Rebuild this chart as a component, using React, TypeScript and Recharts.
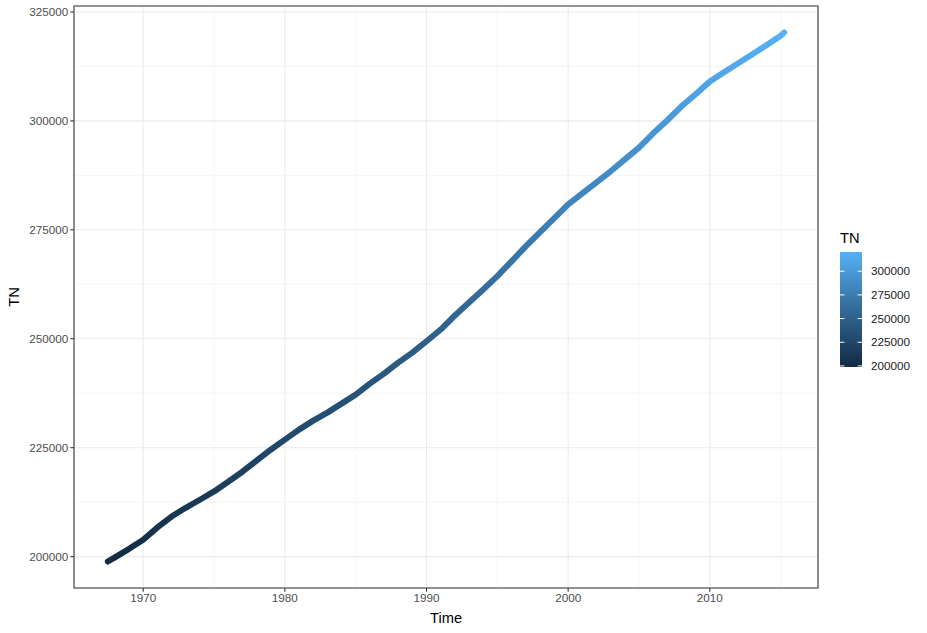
import { LineChart, Line, XAxis, YAxis, CartesianGrid, ReferenceArea } from 'recharts';

// values (one per year, plus the two ends)
const years = [
    1967.5, 1968, 1969, 1970, 1971, 1972, 1973, 1974, 1975, 1976, 1977, 1978, 1979,
    1980, 1981, 1982, 1983, 1984, 1985, 1986, 1987, 1988, 1989,
    1990, 1991, 1992, 1993, 1994, 1995, 1996, 1997, 1998, 1999,
    2000, 2001, 2002, 2003, 2004, 2005, 2006, 2007, 2008, 2009,
    2010, 2011, 2012, 2013, 2014, 2015, 2015.25
];
const tnValues = [
    198870, 199840, 201790, 203860, 206700, 209200, 211210, 213050, 214960, 217190, 219490, 222010, 224540,
    226840, 229140, 231210, 233050, 235110, 237180, 239710, 242010, 244530, 246830,
    249430, 252120, 255340, 258320, 261310, 264370, 267750, 271190, 274400, 277630,
    280840, 283370, 285900, 288430, 291180, 293870, 297160, 300150, 303360, 306120,
    309040, 311180, 313250, 315310, 317380, 319520, 320300
];

const xTicks = [1970, 1980, 1990, 2000, 2010];
const yTicks = [200000, 225000, 250000, 275000, 300000, 325000];
const xMinor = [1975, 1985, 1995, 2005, 2015];
const yMinor = [212500, 237500, 262500, 287500, 312500];
const legendTicks = [200000, 225000, 250000, 275000, 300000];

const LOW = '#132B43';
const MID = '#336A98';
const HIGH = '#56B1F7';
const FONT = '"Liberation Sans", Arial, sans-serif';

const data = years.map((t, i) => ({ time: t, tn: tnValues[i] }));

// ggplot-like 5% expansion
const expand = (arr: number[]) => {
    const lo = Math.min(...arr);
    const hi = Math.max(...arr);
    const pad = (hi - lo) * 0.05;
    return [lo - pad, hi + pad];
};
const xDomain = expand(years);
const yDomain = expand(tnValues);
const tnMin = Math.min(...tnValues);
const tnMax = Math.max(...tnValues);

function ColorBar() {
    const top = 252;
    const bottom = 367;
    const left = 840;
    const w = 22;
    const toY = (v: number) => bottom - ((v - tnMin) / (tnMax - tnMin)) * (bottom - top);
    return (
        <svg width={927} height={633} style={{ position: 'absolute', left: 0, top: 0, pointerEvents: 'none' }}>
            <defs>
                <linearGradient id="barGrad" x1="0" y1="1" x2="0" y2="0">
                    <stop offset="0%" stopColor={LOW} />
                    <stop offset="50%" stopColor={MID} />
                    <stop offset="100%" stopColor={HIGH} />
                </linearGradient>
            </defs>
            <text x={left} y={243} fontFamily={FONT} fontSize={14.7} fill="#000">TN</text>
            <rect x={left} y={top} width={w} height={bottom - top} fill="url(#barGrad)" />
            {legendTicks.map((v) => (
                <g key={v}>
                    <line x1={left} x2={left + 4.4} y1={toY(v)} y2={toY(v)} stroke="#fff" strokeWidth={1} />
                    <line x1={left + w - 4.4} x2={left + w} y1={toY(v)} y2={toY(v)} stroke="#fff" strokeWidth={1} />
                    <text x={left + w + 9} y={toY(v)} dy="0.35em" fontFamily={FONT} fontSize={11.7} fill="#1a1a1a">
                        {v}
                    </text>
                </g>
            ))}
        </svg>
    );
}

export default function App() {
    return (
        <div style={{ position: 'absolute', left: 0, top: 0, width: 927, height: 633, background: '#fff' }}>
            <LineChart
                width={927}
                height={633}
                data={data}
                margin={{ top: 6, right: 109, bottom: 0, left: 0 }}
            >
                <defs>
                    <linearGradient id="tnGrad" x1="0" y1="1" x2="0" y2="0">
                        <stop offset="0%" stopColor={LOW} />
                        <stop offset="50%" stopColor={MID} />
                        <stop offset="100%" stopColor={HIGH} />
                    </linearGradient>
                </defs>
                <CartesianGrid
                    stroke="#EBEBEB"
                    strokeWidth={0.55}
                    verticalValues={xMinor}
                    horizontalValues={yMinor}
                />
                <CartesianGrid stroke="#EBEBEB" strokeWidth={1.07} />
                <XAxis
                    dataKey="time"
                    type="number"
                    domain={xDomain}
                    ticks={xTicks}
                    allowDataOverflow
                    height={45}
                    axisLine={false}
                    tickLine={{ stroke: '#333333', strokeWidth: 1.07 }}
                    tickSize={3.7}
                    tickMargin={2}
                    tick={{ fill: '#4D4D4D', fontSize: 11.7, fontFamily: FONT }}
                    label={({ viewBox }: any) => (
                        <text
                            x={viewBox.x + viewBox.width / 2}
                            y={viewBox.y + 35}
                            textAnchor="middle"
                            fontFamily={FONT}
                            fontSize={14.7}
                            fill="#000"
                        >
                            Time
                        </text>
                    )}
                />
                <YAxis
                    dataKey="tn"
                    type="number"
                    domain={yDomain}
                    ticks={yTicks}
                    allowDataOverflow
                    width={74}
                    axisLine={false}
                    tickLine={{ stroke: '#333333', strokeWidth: 1.07 }}
                    tickSize={3.7}
                    tickMargin={2}
                    tick={{ fill: '#4D4D4D', fontSize: 11.7, fontFamily: FONT }}
                    label={({ viewBox }: any) => {
                        const cx = 19;
                        const cy = viewBox.y + viewBox.height / 2;
                        return (
                            <text
                                x={cx}
                                y={cy}
                                transform={`rotate(-90, ${cx}, ${cy})`}
                                textAnchor="middle"
                                fontFamily={FONT}
                                fontSize={14.7}
                                fill="#000"
                            >
                                TN
                            </text>
                        );
                    }}
                />
                <Line
                    type="linear"
                    dataKey="tn"
                    stroke="url(#tnGrad)"
                    strokeWidth={6}
                    strokeLinecap="round"
                    strokeLinejoin="round"
                    dot={false}
                    activeDot={false}
                    isAnimationActive={false}
                />
                <ReferenceArea
                    x1={xDomain[0]}
                    x2={xDomain[1]}
                    y1={yDomain[0]}
                    y2={yDomain[1]}
                    fill="none"
                    fillOpacity={0}
                    stroke="#333333"
                    strokeWidth={1.07}
                    ifOverflow="visible"
                />
            </LineChart>
            <ColorBar />
        </div>
    );
}
